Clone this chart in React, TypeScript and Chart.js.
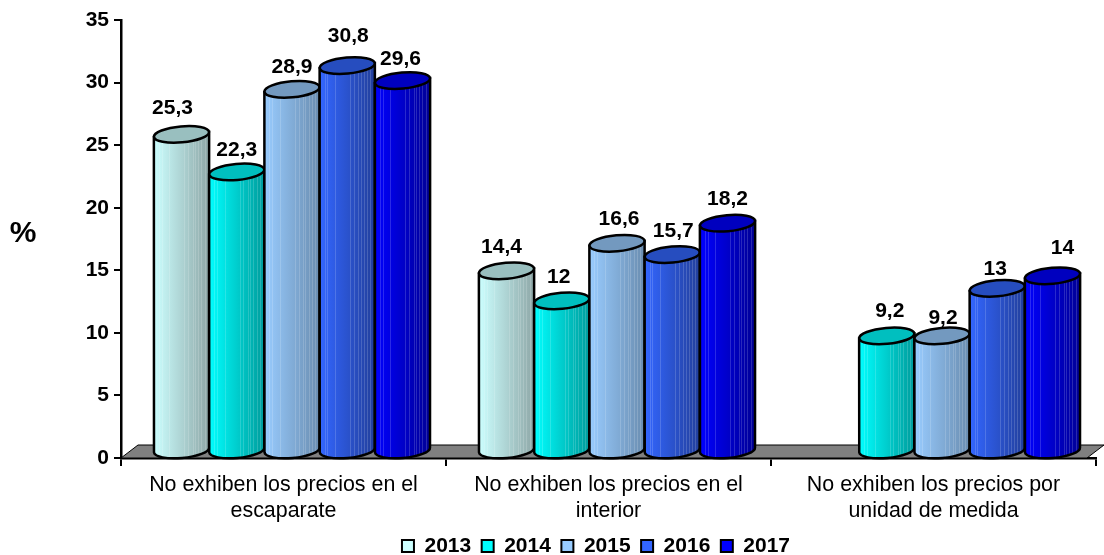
import React, { useEffect, useRef } from "react";
import { Chart, BarController, BarElement, CategoryScale, LinearScale, Legend } from "chart.js";

const categories = [
  ["No exhiben los precios en el", "escaparate"],
  ["No exhiben los precios en el", "interior"],
  ["No exhiben los precios por", "unidad de medida"],
];
const years = ["2013", "2014", "2015", "2016", "2017"];
const values2013 = [25.3, 14.4, null];
const values2014 = [22.3, 12, 9.2];
const values2015 = [28.9, 16.6, 9.2];
const values2016 = [30.8, 15.7, 13];
const values2017 = [29.6, 18.2, 14];
const seriesValues = [values2013, values2014, values2015, values2016, values2017];

const frontColors = ["#CCFFFF", "#00FFFF", "#99CCFF", "#3366FF", "#0000FF"];
const sideColors = ["#8FA8A8", "#009C9C", "#6A8DB0", "#223F9C", "#000096"];
const capColors = ["#99BFBF", "#00BFBF", "#7399BF", "#264DBF", "#0000BF"];

// Hand-placed label nudges (px) per series and category, relative to the cylinder top.
const labelDx = [[-9, -5, 0], [0, -3, 3], [0, 2, 1], [1, 1, -2], [-2, 0, 10]];
const labelDy = [[-18, -16, 0], [-14, -16, -17], [-14, -16, -10], [-21, -15, -11], [-13, -16, -20]];

const FONT = "'Liberation Sans', Arial, sans-serif";
const DEPTH_X = 8.5;
const DEPTH_Y = 7;
const CAP_RY = 8;
const TILT = -0.09;
const LEGEND_SHIFT_X = 48;
const LEGEND_TOP = 525;
// Where the pale vertical streaks sit across a cylinder's width.
const STREAKS = [0.09, 0.14, 0.28, 0.55, 0.62, 0.7, 0.74, 0.8, 0.86, 0.92];

class CylinderElement extends BarElement {
  static id = "cylinder";
  static defaults = BarElement.defaults;
  draw(ctx: CanvasRenderingContext2D) {
    const { x, y, base, width } = (this as any).getProps(["x", "y", "base", "width"]);
    if (!Number.isFinite(y)) return;
    // The series is identified by its fill colour, which selects the shading set.
    const series = frontColors.indexOf((this as any).options.backgroundColor);
    const cx = x + DEPTH_X;
    const top = y - DEPTH_Y;
    const bottom = base - DEPTH_Y;
    const rx = width / 2;
    const dy = Math.sin(TILT) * rx;

    const outline = () => {
      ctx.beginPath();
      ctx.ellipse(cx, bottom, rx, CAP_RY, TILT, 0, Math.PI);
      ctx.lineTo(cx - rx, top - dy);
      ctx.lineTo(cx + rx, top + dy);
      ctx.closePath();
    };

    const body = ctx.createLinearGradient(cx - rx, 0, cx + rx, 0);
    body.addColorStop(0, frontColors[series]);
    body.addColorStop(1, sideColors[series]);
    ctx.save();
    outline();
    ctx.fillStyle = body;
    ctx.fill();

    ctx.save();
    outline();
    ctx.clip();
    ctx.strokeStyle = "rgba(255,255,255,0.16)";
    ctx.lineWidth = 1;
    for (const f of STREAKS) {
      const sx = Math.round(cx - rx + f * width) + 0.5;
      ctx.beginPath();
      ctx.moveTo(sx, top - CAP_RY);
      ctx.lineTo(sx, bottom + CAP_RY);
      ctx.stroke();
    }
    ctx.restore();

    ctx.strokeStyle = "#000";
    ctx.lineWidth = 2.5;
    outline();
    ctx.stroke();
    ctx.beginPath();
    ctx.ellipse(cx, top, rx, CAP_RY, TILT, 0, Math.PI * 2);
    ctx.fillStyle = capColors[series];
    ctx.fill();
    ctx.stroke();
    ctx.restore();
  }
}

class CylinderController extends BarController {
  static id = "cylinder";
  static defaults = { ...BarController.defaults, dataElementType: "cylinder" };
  static overrides = BarController.overrides;
}

const cylinderScene = {
  id: "cylinderScene",
  // The legend sits right of centre and close to the lower edge.
  afterLayout(chart: any) {
    const legend = chart.legend;
    legend.left += LEGEND_SHIFT_X;
    legend.right += LEGEND_SHIFT_X;
    legend.top = LEGEND_TOP;
  },
  // Later series overlap earlier ones, so draw them first to last, on a grey floor.
  beforeDatasetsDraw(chart: any) {
    const { ctx, chartArea, scales } = chart;
    const yZero = scales.y.getPixelForValue(0);
    const left = chartArea.left;
    const right = chartArea.right;
    ctx.save();
    ctx.beginPath();
    ctx.moveTo(left, yZero);
    ctx.lineTo(left + 17, yZero - 13);
    ctx.lineTo(right + 8, yZero - 13);
    ctx.lineTo(right - 9, yZero);
    ctx.closePath();
    ctx.fillStyle = "#808080";
    ctx.fill();
    ctx.strokeStyle = "#000";
    ctx.lineWidth = 1;
    ctx.stroke();
    ctx.restore();

    const metas = chart.getSortedVisibleDatasetMetas();
    metas.forEach((m: any) => m.controller.draw());

    ctx.save();
    ctx.fillStyle = "#000";
    ctx.textAlign = "center";
    ctx.textBaseline = "middle";
    ctx.font = `bold 21px ${FONT}`;
    metas.forEach((m: any) => {
      const s = m.index;
      m.data.forEach((el: any, i: number) => {
        const v = seriesValues[s][i];
        if (v === null) return;
        const text = String(v).replace(".", ",");
        const capTop = el.y - DEPTH_Y - CAP_RY;
        ctx.fillText(text, el.x + DEPTH_X + labelDx[s][i], capTop + labelDy[s][i]);
      });
    });
    ctx.font = `bold 30px ${FONT}`;
    ctx.fillText("%", 23, 234);
    ctx.restore();
    return false;
  },
};

Chart.register(CategoryScale, LinearScale, Legend, CylinderElement, CylinderController);

export default function App() {
  const ref = useRef<HTMLCanvasElement>(null);
  useEffect(() => {
    document.body.style.margin = "0";
    const chart = new Chart(ref.current!, {
      type: "cylinder" as any,
      data: {
        labels: categories,
        datasets: years.map((label, i) => ({
          label,
          data: seriesValues[i],
          backgroundColor: frontColors[i],
          categoryPercentage: 0.85,
          barPercentage: 1,
        })) as any,
      },
      plugins: [cylinderScene],
      options: {
        responsive: false,
        animation: false,
        layout: { padding: { top: 20, right: 8, left: 0, bottom: 0 } },
        plugins: {
          tooltip: { enabled: false },
          legend: {
            position: "bottom",
            maxHeight: 1,
            labels: {
              color: "#000",
              font: { family: FONT, weight: "bold", size: 21 },
              boxWidth: 12,
              boxHeight: 12,
              padding: 10.5,
              generateLabels: () =>
                years.map((text, i) => ({
                  text,
                  fillStyle: frontColors[i],
                  strokeStyle: "#000",
                  lineWidth: 2,
                  datasetIndex: i,
                })),
            },
          },
        },
        scales: {
          x: {
            afterFit: (s: any) => {
              s.height = 96;
            },
            grid: {
              offset: true,
              drawOnChartArea: false,
              color: "#000",
              lineWidth: 2,
              tickLength: 8,
            },
            border: { color: "#000", width: 2.5 },
            ticks: {
              color: "#000",
              maxRotation: 0,
              padding: 6,
              font: { family: FONT, size: 21.4, lineHeight: 1.22 },
            },
          },
          y: {
            min: 0,
            max: 35,
            afterFit: (s: any) => {
              s.width = 121;
            },
            grid: {
              drawOnChartArea: false,
              color: "#000",
              lineWidth: 2,
              tickLength: 7,
            },
            border: { color: "#000", width: 2.5 },
            ticks: {
              stepSize: 5,
              color: "#000",
              padding: 5,
              font: { family: FONT, weight: "bold", size: 21 },
            },
          },
        },
      } as any,
    });
    return () => chart.destroy();
  }, []);
  return <canvas ref={ref} width={1104} height={555} style={{ display: "block" }} />;
}
